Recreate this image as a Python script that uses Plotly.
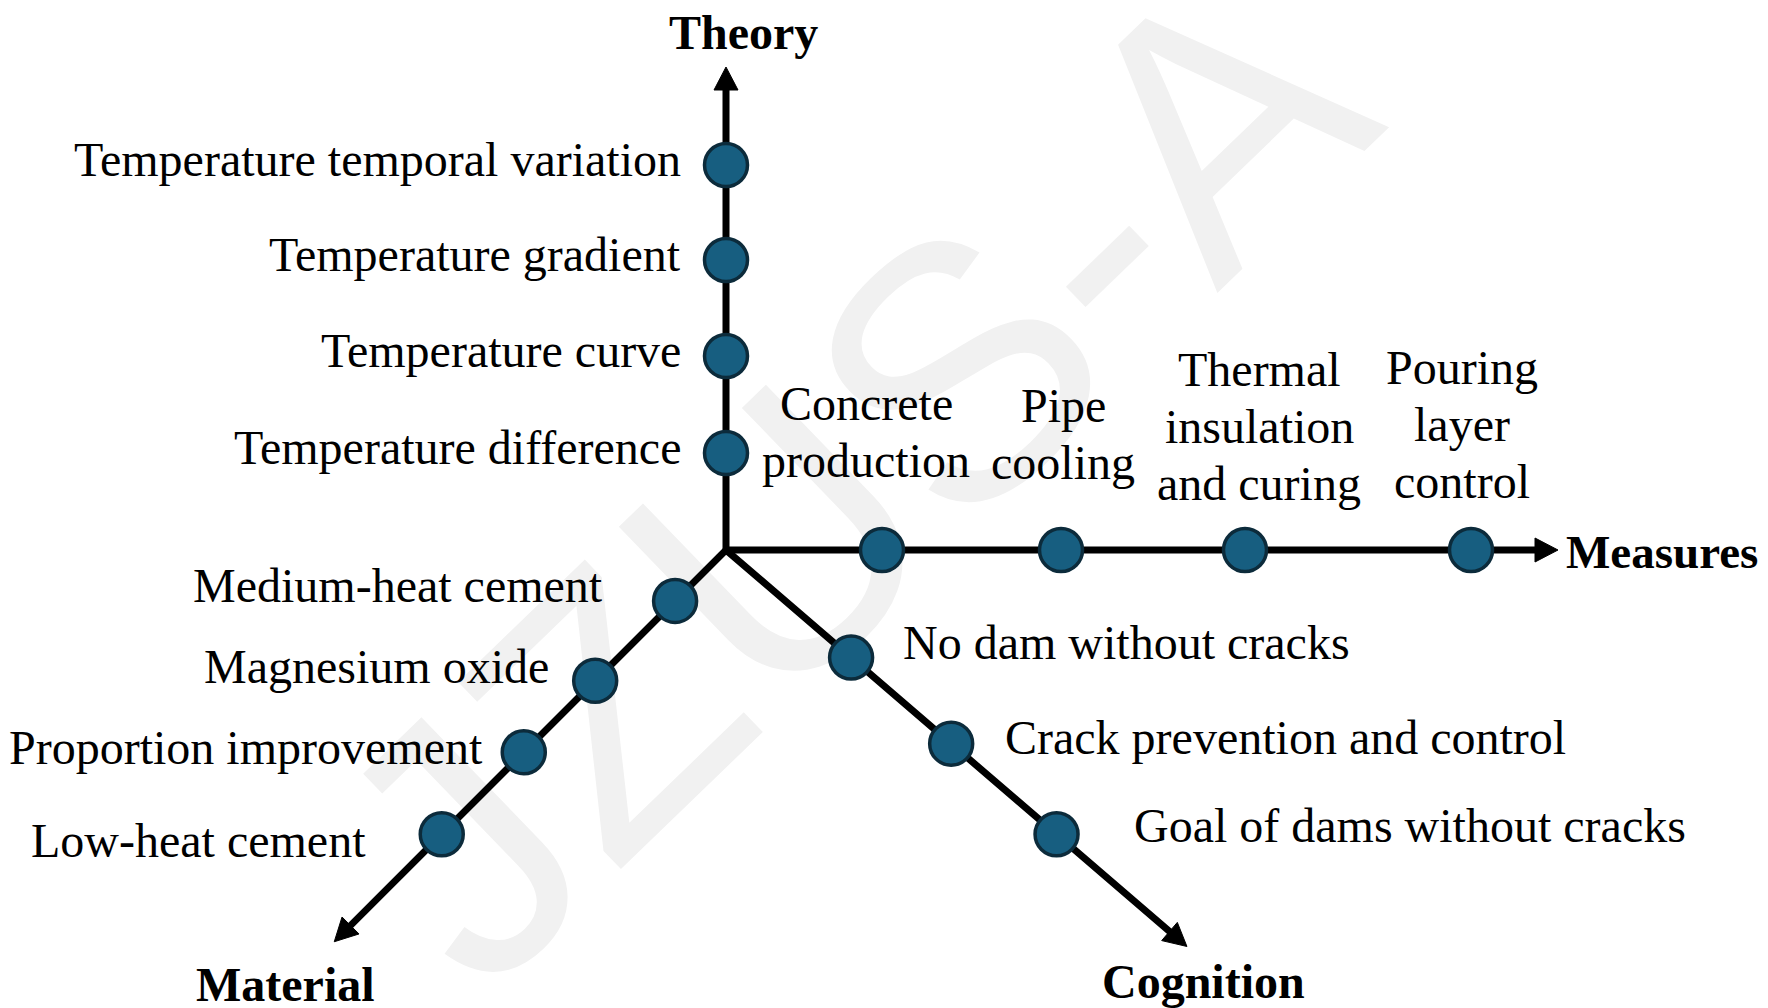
import numpy as np
import plotly.graph_objects as go

# ---------------- data ----------------
axis_names = ["Theory", "Measures", "Material", "Cognition"]
axis_angle_deg = [90, 0, 225, -40.7]       # direction of each axis
axis_length = [483, 832, 554, 608]          # distance from origin to arrow tip

theory_items = ["Temperature temporal variation", "Temperature gradient",
                "Temperature curve", "Temperature difference"]
theory_dist = [385, 290, 194, 97]

measures_items = [["Concrete", "production"], ["Pipe", "cooling"],
                  ["Thermal", "insulation", "and curing"], ["Pouring", "layer", "control"]]
measures_dist = [156, 335, 519, 745]

material_items = ["Medium-heat cement", "Magnesium oxide",
                  "Proportion improvement", "Low-heat cement"]
material_dist = [72, 185, 286, 402]

cognition_items = ["No dam without cracks", "Crack prevention and control",
                   "Goal of dams without cracks"]
cognition_dist = [165, 297, 436]

watermark = "JZUS-A"

# ---------------- layout parameters ----------------
W, H = 1768, 1008
PAGE_MARGIN = 8                      # browser body margin; compensated in axis ranges
ORIGIN = np.array([726.0, 550.0])
SERIF = "Liberation Serif"
SANS = "Liberation Sans"
FS = 48
DOT_FILL = "#175e80"
DOT_EDGE = "#0c2b3b"

def unit(angle_deg):
    a = np.deg2rad(angle_deg)
    return np.array([np.cos(a), -np.sin(a)])  # screen coords, y down

def point(axis_idx, dist):
    return ORIGIN + unit(axis_angle_deg[axis_idx]) * dist

fig = go.Figure()

# axis lines (two paths so the joins are clean)
HEAD_LEN, HEAD_HALF = 23, 12
ends = [point(i, axis_length[i] - HEAD_LEN + 3) for i in range(4)]
for a, b in [(0, 1), (2, 3)]:
    fig.add_trace(go.Scatter(
        x=[ends[a][0], ORIGIN[0], ends[b][0]], y=[ends[a][1], ORIGIN[1], ends[b][1]],
        mode="lines", line=dict(color="black", width=7), hoverinfo="skip", showlegend=False))

# arrow heads
for i in range(4):
    u = unit(axis_angle_deg[i])
    n = np.array([-u[1], u[0]])
    tip = point(i, axis_length[i])
    base = tip - u * HEAD_LEN
    p1, p2 = base + n * HEAD_HALF, base - n * HEAD_HALF
    fig.add_trace(go.Scatter(
        x=[tip[0], p1[0], p2[0], tip[0]], y=[tip[1], p1[1], p2[1], tip[1]],
        mode="lines", fill="toself", fillcolor="black", line=dict(color="black", width=1),
        hoverinfo="skip", showlegend=False))

# dots
all_pts = []
for idx, dists in enumerate([theory_dist, measures_dist, material_dist, cognition_dist]):
    for d in dists:
        all_pts.append(point(idx, d))
all_pts = np.array(all_pts)
fig.add_trace(go.Scatter(
    x=all_pts[:, 0], y=all_pts[:, 1], mode="markers",
    marker=dict(size=43, color=DOT_FILL, line=dict(color=DOT_EDGE, width=3.5)),
    hoverinfo="skip", showlegend=False))

annotations = []

def txt(x, y, text, xanchor="center", bold=False, size=FS):
    annotations.append(dict(
        x=x, y=y, xref="x", yref="y", text=f"<b>{text}</b>" if bold else text,
        showarrow=False, xanchor=xanchor, yanchor="middle",
        font=dict(family=SERIF, size=size, color="black")))

# theory labels (right aligned, left of axis)
for lab, d in zip(theory_items, theory_dist):
    p = point(0, d)
    txt(p[0] - 43, p[1] - 6, lab, xanchor="right")

# measures labels (stacked lines above the axis)
meas_dx = [-16, 2, 14, -9]
meas_last_line_y = [460, 462, 483, 481]
LINE_GAP = 57
for lines, d, dx, yl in zip(measures_items, measures_dist, meas_dx, meas_last_line_y):
    p = point(1, d)
    n = len(lines)
    for k, ln in enumerate(lines):
        txt(p[0] + dx, yl - (n - 1 - k) * LINE_GAP, ln)

# material labels
mat_off = [(-70, -15), (-44, -14), (-39, -5), (-74, 6)]
for lab, d, (dx, dy) in zip(material_items, material_dist, mat_off):
    p = point(2, d)
    txt(p[0] + dx, p[1] + dy, lab, xanchor="right")

# cognition labels
cog_off = [(50, -15), (52, -6), (75, -9)]
for lab, d, (dx, dy) in zip(cognition_items, cognition_dist, cog_off):
    p = point(3, d)
    txt(p[0] + dx, p[1] + dy, lab, xanchor="left")

# axis titles
tT = point(0, axis_length[0]); txt(tT[0] + 17, tT[1] - 35, axis_names[0], bold=True)
tM = point(1, axis_length[1]); txt(tM[0] + 6, tM[1] + 2, axis_names[1], xanchor="left", bold=True, size=47)
tMa = point(2, axis_length[2]); txt(tMa[0] - 49, tMa[1] + 43, axis_names[2], bold=True)
tC = point(3, axis_length[3]); txt(tC[0] + 17, tC[1] + 35, axis_names[3], bold=True)

# watermark (below everything, via a shape label)
wm_c = np.array([826.0, 450.0])
wm_u = unit(44)
wm_a, wm_b = wm_c - wm_u * 600, wm_c + wm_u * 600
shapes = [dict(type="line", xref="x", yref="y", layer="below",
               x0=wm_a[0], y0=wm_a[1], x1=wm_b[0], y1=wm_b[1],
               line=dict(width=0, color="rgba(0,0,0,0)"),
               label=dict(text=watermark, textposition="middle", yanchor="middle",
                          font=dict(family=SANS, size=360, color="#f1f1f1")))]

fig.update_layout(
    width=W, height=H, margin=dict(l=0, r=0, t=0, b=0),
    paper_bgcolor="white", plot_bgcolor="white",
    xaxis=dict(range=[PAGE_MARGIN, W + PAGE_MARGIN], visible=False, fixedrange=True),
    yaxis=dict(range=[H + PAGE_MARGIN, PAGE_MARGIN], visible=False, fixedrange=True),
    annotations=annotations, shapes=shapes, showlegend=False)

fig.write_html("out.html")
